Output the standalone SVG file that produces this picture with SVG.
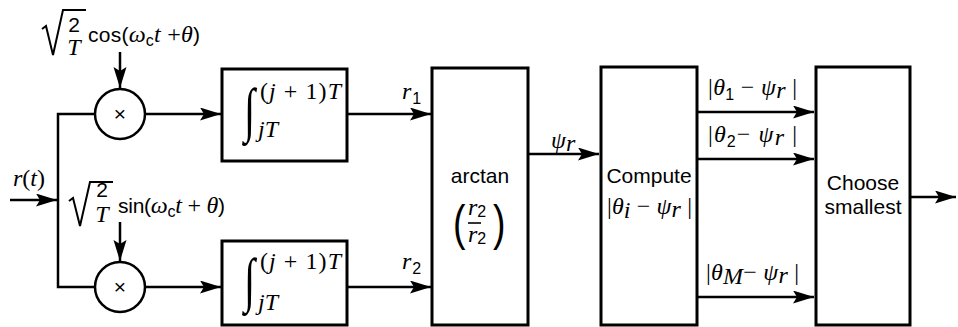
<svg xmlns="http://www.w3.org/2000/svg" width="958" height="327" viewBox="0 0 958 327">
<style>
.ln{stroke:#000;stroke-width:2.5;fill:none}
.rad{stroke:#000;stroke-width:2;fill:none;stroke-linejoin:miter}
.box{stroke:#000;stroke-width:3;fill:#fff}
.circ{stroke:#000;stroke-width:2.5;fill:#fff}
.sans{font-family:"Liberation Sans",Arial,sans-serif;font-size:21px;fill:#000}
.it{font-family:"Liberation Serif","Times New Roman",serif;font-style:italic;font-size:24px;fill:#000}
.rm{font-family:"Liberation Serif","Times New Roman",serif;font-size:24px;fill:#000}
.sub{font-family:"Liberation Sans",Arial,sans-serif;font-size:16px;fill:#000}
.big{font-family:"Liberation Serif",serif;fill:#000}
.paren{font-family:"Liberation Sans",Arial,sans-serif;fill:#000}
</style>
<defs>
<marker id="ah" markerUnits="userSpaceOnUse" markerWidth="24" markerHeight="14" refX="21" refY="6.5" orient="auto">
<path d="M0,0 L21,6.5 L0,13 L4,6.5 Z" fill="#000"/>
</marker>
</defs>

<g id="connectors">
<line class="ln" x1="10" y1="200" x2="57" y2="200" marker-end="url(#ah)"/>
<polyline class="ln" points="95,114 58,114 58,287 95,287"/>
<line class="ln" x1="120" y1="52" x2="120" y2="88" marker-end="url(#ah)"/>
<line class="ln" x1="120" y1="222" x2="120" y2="261" marker-end="url(#ah)"/>
<line class="ln" x1="145" y1="114" x2="221" y2="114" marker-end="url(#ah)"/>
<line class="ln" x1="145" y1="287" x2="221" y2="287" marker-end="url(#ah)"/>
<line class="ln" x1="347" y1="114" x2="431" y2="114" marker-end="url(#ah)"/>
<line class="ln" x1="347" y1="287" x2="431" y2="287" marker-end="url(#ah)"/>
<line class="ln" x1="528" y1="154" x2="599" y2="154" marker-end="url(#ah)"/>
<line class="ln" x1="697" y1="112" x2="814" y2="112" marker-end="url(#ah)"/>
<line class="ln" x1="697" y1="159" x2="814" y2="159" marker-end="url(#ah)"/>
<line class="ln" x1="697" y1="297" x2="814" y2="297" marker-end="url(#ah)"/>
<line class="ln" x1="910" y1="197" x2="956" y2="197" marker-end="url(#ah)"/>
</g>

<g id="input-label">
<text x="13" y="186" textLength="32" lengthAdjust="spacing"><tspan class="it">r</tspan><tspan class="rm">(</tspan><tspan class="it">t</tspan><tspan class="rm">)</tspan></text>
</g>

<g id="cos-label">
<polyline class="rad" points="42,29 46,26 53,55 63,10 86,10"/>
<text class="sans" x="74" y="32" text-anchor="middle" font-size="18">2</text>
<text class="it" x="74" y="55" text-anchor="middle">T</text>
<text x="88" y="42" textLength="112" lengthAdjust="spacing"><tspan class="sans">cos(</tspan><tspan class="it">ω</tspan><tspan class="sub" dy="4">c</tspan><tspan class="it" dy="-4">t</tspan><tspan class="rm"> +</tspan><tspan class="it">θ</tspan><tspan class="sans">)</tspan></text>
</g>

<g id="sin-label">
<polyline class="rad" points="69,201 73,198 80,226 90,182 113,182"/>
<text class="sans" x="102" y="197" text-anchor="middle" font-size="18">2</text>
<text class="it" x="102" y="222" text-anchor="middle">T</text>
<text x="118" y="213" textLength="107" lengthAdjust="spacing"><tspan class="sans">sin(</tspan><tspan class="it">ω</tspan><tspan class="sub" dy="4">c</tspan><tspan class="it" dy="-4">t</tspan><tspan class="rm"> + </tspan><tspan class="it">θ</tspan><tspan class="sans">)</tspan></text>
</g>

<g id="mult1">
<circle class="circ" cx="120" cy="114" r="25"/>
<text class="sans" x="120" y="121" text-anchor="middle" font-size="20">×</text>
</g>
<g id="mult2">
<circle class="circ" cx="120" cy="287" r="25"/>
<text class="sans" x="120" y="294" text-anchor="middle" font-size="20">×</text>
</g>

<g id="integrator1">
<rect class="box" x="222" y="69" width="125" height="92"/>
<text class="big" x="244" y="130" font-size="40" transform="translate(244 130) scale(1 1.5) translate(-244 -130)">∫</text>
<text x="260" y="99" textLength="81" lengthAdjust="spacing"><tspan class="rm">(</tspan><tspan class="it">j</tspan><tspan class="rm"> + 1)</tspan><tspan class="it">T</tspan></text>
<text class="it" x="258" y="137">jT</text>
</g>
<g id="integrator2">
<rect class="box" x="222" y="241" width="125" height="84"/>
<text class="big" x="244" y="300" font-size="40" transform="translate(244 300) scale(1 1.5) translate(-244 -300)">∫</text>
<text x="260" y="269" textLength="81" lengthAdjust="spacing"><tspan class="rm">(</tspan><tspan class="it">j</tspan><tspan class="rm"> + 1)</tspan><tspan class="it">T</tspan></text>
<text class="it" x="258" y="310">jT</text>
</g>

<g id="r1-label"><text x="402" y="99"><tspan class="it">r</tspan><tspan class="sub" dy="5" dx="1">1</tspan></text></g>
<g id="r2-label"><text x="402" y="269"><tspan class="it">r</tspan><tspan class="sub" dy="5" dx="1">2</tspan></text></g>

<g id="arctan">
<rect class="box" x="432" y="68" width="96" height="257"/>
<text class="sans" x="480" y="183" text-anchor="middle">arctan</text>
<text class="paren" x="0" y="0" font-size="50" transform="translate(453 240) scale(0.75 1)">(</text>
<text class="paren" x="0" y="0" font-size="50" transform="translate(493 240) scale(0.75 1)">)</text>
<text x="468" y="215"><tspan class="it" font-size="20">r</tspan><tspan class="sub" font-size="15" dy="2">2</tspan></text>
<line x1="468" y1="223" x2="481" y2="223" stroke="#000" stroke-width="1.6"/>
<text x="468" y="242"><tspan class="it" font-size="20">r</tspan><tspan class="sub" font-size="15" dy="2">2</tspan></text>
</g>

<g id="psi-label"><text x="551" y="148"><tspan class="it" font-size="25">ψ</tspan><tspan class="it" font-size="17" dy="3">r</tspan></text></g>

<g id="compute">
<rect class="box" x="601" y="67" width="96" height="258"/>
<text class="sans" x="649" y="183" text-anchor="middle">Compute</text>
<text x="607" y="214" textLength="85" lengthAdjust="spacing"><tspan class="rm">|</tspan><tspan class="it">θ</tspan><tspan class="it" font-size="16" dy="4">i</tspan><tspan class="rm" dy="-4"> − </tspan><tspan class="it">ψ</tspan><tspan class="it" font-size="17" dy="3">r</tspan><tspan class="rm" dy="-3"> |</tspan></text>
</g>

<g id="diff-labels">
<text x="708" y="95" textLength="89" lengthAdjust="spacing"><tspan class="rm">|</tspan><tspan class="it">θ</tspan><tspan class="sub" dy="5">1</tspan><tspan class="rm" dy="-5"> − </tspan><tspan class="it">ψ</tspan><tspan class="it" font-size="17" dy="3">r</tspan><tspan class="rm" dy="-3"> |</tspan></text>
<text x="708" y="142" textLength="89" lengthAdjust="spacing"><tspan class="rm">|</tspan><tspan class="it">θ</tspan><tspan class="sub" dy="5">2</tspan><tspan class="rm" dy="-5">− </tspan><tspan class="it">ψ</tspan><tspan class="it" font-size="17" dy="3">r</tspan><tspan class="rm" dy="-3"> |</tspan></text>
<text x="706" y="280" textLength="93" lengthAdjust="spacing"><tspan class="rm">|</tspan><tspan class="it">θ</tspan><tspan class="it" font-size="16" dy="4">M</tspan><tspan class="rm" dy="-4">− </tspan><tspan class="it">ψ</tspan><tspan class="it" font-size="17" dy="3">r</tspan><tspan class="rm" dy="-3"> |</tspan></text>
</g>

<g id="choose">
<rect class="box" x="816" y="67" width="94" height="258"/>
<text class="sans" x="863" y="190" text-anchor="middle">Choose</text>
<text class="sans" x="863" y="214" text-anchor="middle">smallest</text>
</g>
</svg>
